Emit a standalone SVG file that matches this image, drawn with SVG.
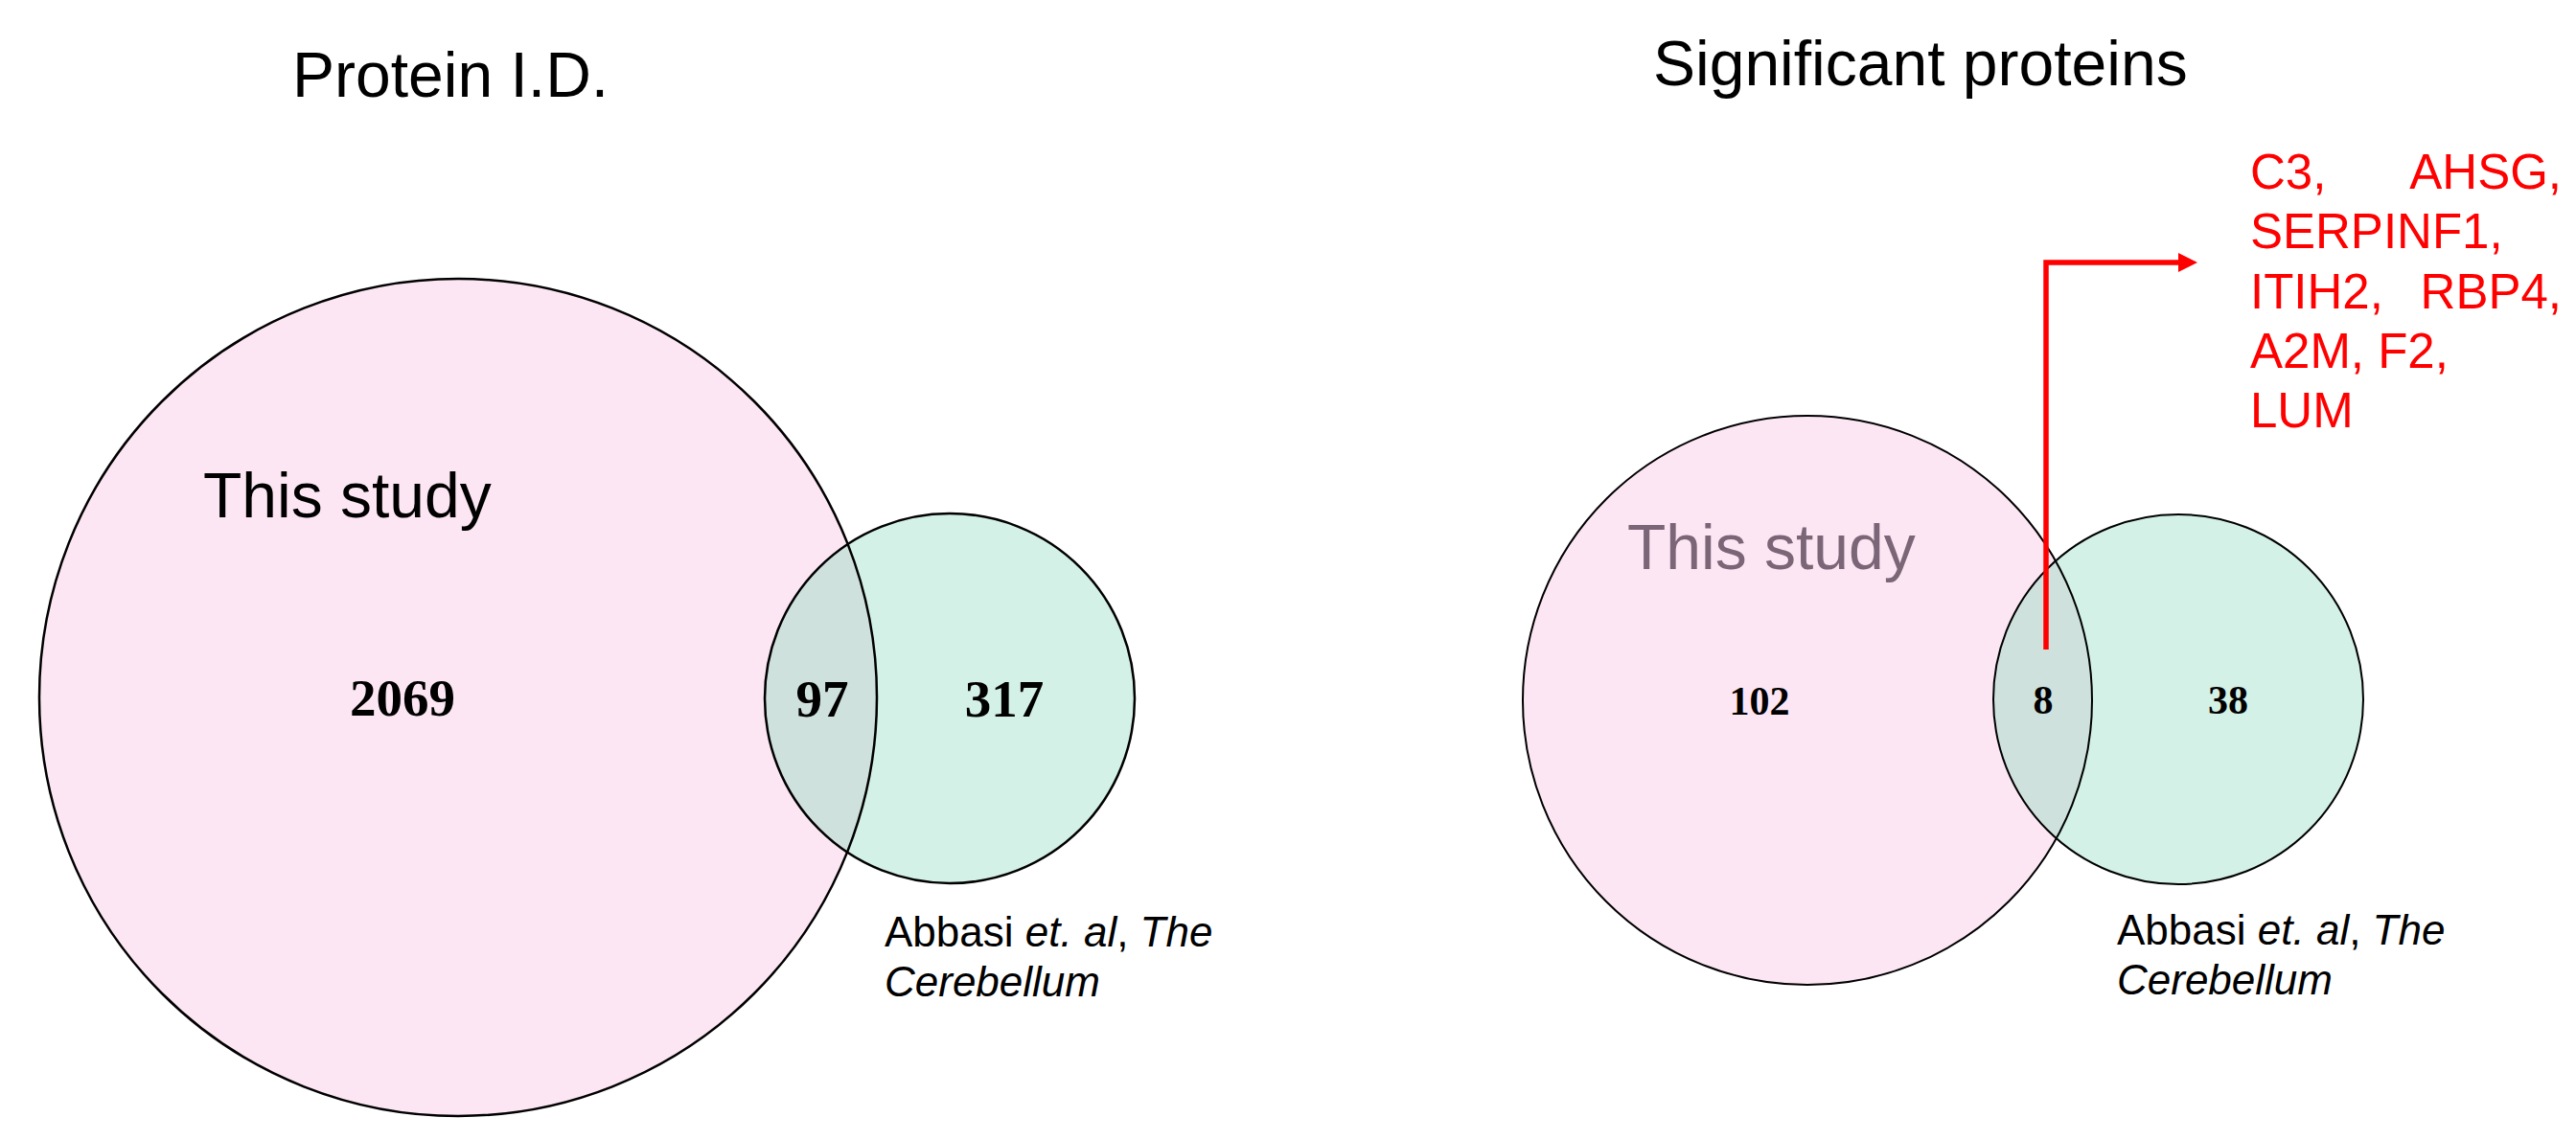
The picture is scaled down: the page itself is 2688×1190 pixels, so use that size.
<svg xmlns="http://www.w3.org/2000/svg" width="2688" height="1190" viewBox="0 0 2688 1190">
<style>
.title{font-family:"Liberation Sans",Arial,sans-serif;font-size:66px;fill:#000}
.set{font-family:"Liberation Sans",Arial,sans-serif;font-size:66px}
.numL{font-family:"Liberation Serif","Times New Roman",serif;font-weight:bold;font-size:55px;fill:#000;text-anchor:middle}
.numR{font-family:"Liberation Serif","Times New Roman",serif;font-weight:bold;font-size:42px;fill:#000;text-anchor:middle}
.ref{font-family:"Liberation Sans",Arial,sans-serif;font-size:44px;fill:#000}
.it{font-style:italic}
.red{font-family:"Liberation Sans",Arial,sans-serif;font-size:51px;fill:#ff0000}
.pink{fill:#fde6f3}
.teal{fill:#d3f1e6}
.both{fill:#cfe1dd}
.edge{fill:none;stroke:#000;stroke-width:2.5}
.edgeR{fill:none;stroke:#000;stroke-width:2}
</style>
<defs>
<clipPath id="clipL"><circle cx="991" cy="729" r="193"/></clipPath>
<clipPath id="clipR"><circle cx="2273" cy="730" r="193"/></clipPath>
<marker id="arrow" markerUnits="userSpaceOnUse" markerWidth="20" markerHeight="20" viewBox="0 0 20 20" refX="2" refY="10" orient="auto">
<path d="M0,0 L20,10 L0,20 z" fill="#ff0000"/>
</marker>
</defs>
<rect width="2688" height="1190" fill="#ffffff"/>

<text id="title-left" class="title" x="305" y="101">Protein I.D.</text>
<text id="title-right" class="title" x="1725" y="89">Significant proteins</text>

<g id="left-this-study">
<circle class="pink" cx="478" cy="728" r="437"/>
</g>
<g id="left-abbasi">
<circle class="teal" cx="991" cy="729" r="193"/>
</g>
<g id="left-overlap">
<circle class="both" cx="478" cy="728" r="437" clip-path="url(#clipL)"/>
</g>
<circle class="edge" cx="478" cy="728" r="437"/>
<circle class="edge" cx="991" cy="729" r="193"/>
<text class="set" x="212" y="540" fill="#000">This study</text>
<text class="numL" x="420" y="747">2069</text>
<text class="numL" x="858" y="748">97</text>
<text class="numL" x="1048" y="748">317</text>
<text class="ref" x="923" y="988">Abbasi <tspan class="it">et. al</tspan>, <tspan class="it">The</tspan></text>
<text class="ref it" x="923" y="1040">Cerebellum</text>

<g id="right-this-study">
<circle class="pink" cx="1886" cy="731" r="297"/>
</g>
<g id="right-abbasi">
<circle class="teal" cx="2273" cy="730" r="193"/>
</g>
<g id="right-overlap">
<circle class="both" cx="1886" cy="731" r="297" clip-path="url(#clipR)"/>
</g>
<circle class="edgeR" cx="1886" cy="731" r="297"/>
<circle class="edgeR" cx="2273" cy="730" r="193"/>
<text class="set" x="1698" y="594" fill="#7b6677">This study</text>
<text class="numR" x="1836" y="746">102</text>
<text class="numR" x="2132" y="745">8</text>
<text class="numR" x="2325" y="745">38</text>
<text class="ref" x="2209" y="986">Abbasi <tspan class="it">et. al</tspan>, <tspan class="it">The</tspan></text>
<text class="ref it" x="2209" y="1038">Cerebellum</text>

<g id="protein-list">
<text class="red" x="2348" y="197">C3,</text>
<text class="red" x="2673" y="197" text-anchor="end">AHSG,</text>
<text class="red" x="2348" y="259">SERPINF1,</text>
<text class="red" x="2348" y="322">ITIH2,</text>
<text class="red" x="2673" y="322" text-anchor="end">RBP4,</text>
<text class="red" x="2348" y="384">A2M, F2,</text>
<text class="red" x="2348" y="446">LUM</text>
</g>

<g id="connectors">
<path d="M2135,678 V274 H2275" fill="none" stroke="#ff0000" stroke-width="5.5" marker-end="url(#arrow)"/>
</g>
</svg>
